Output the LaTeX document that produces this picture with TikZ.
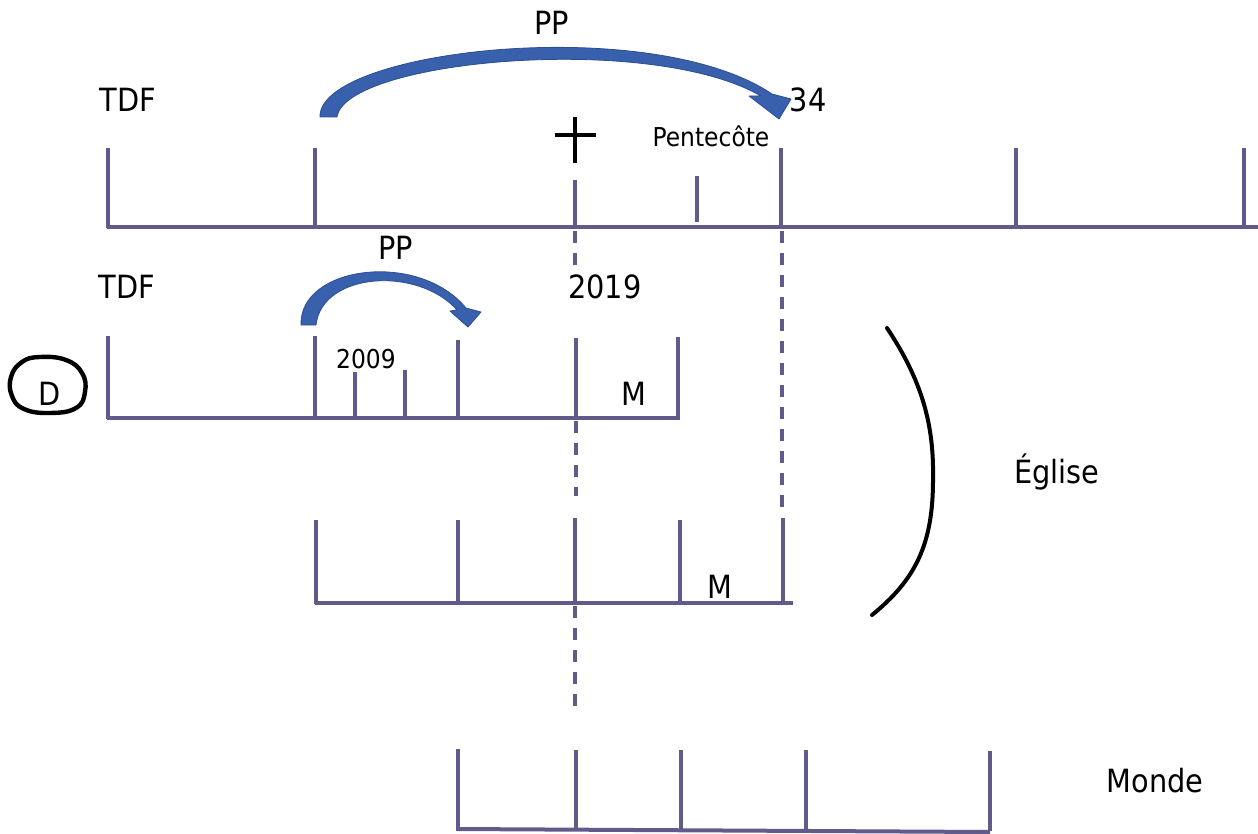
\documentclass[tikz,border=0pt]{standalone}
\usepackage{fontspec}
\setmainfont{DejaVu Sans Condensed}
\definecolor{linec}{RGB}{97,91,139}
\definecolor{arrowb}{RGB}{56,96,172}
\definecolor{arrowd}{RGB}{44,78,148}
\tikzset{
 axisline/.style={draw=linec, line width=2pt},
 tickline/.style={draw=linec, line width=1.75pt},
 dashline/.style={draw=linec, line width=1.6pt, dash pattern=on 6pt off 5pt},
 big/.style={font=\fontsize{16}{18}\selectfont, anchor=base, inner sep=0pt},
 small/.style={font=\fontsize{13}{15}\selectfont, anchor=base, inner sep=0pt},
 inkline/.style={draw=black, line width=2pt, line cap=round, line join=round},
 arrowfill/.style={fill=arrowb, draw=arrowd, line width=0.4pt, line join=round},
}
\begin{document}
\begin{tikzpicture}[x=0.5pt,y=-0.5pt]
\useasboundingbox (0,0) rectangle (1258,834);

% ---------- top timeline ----------
\draw[axisline] (107,227) -- (1258,227);
\foreach \x/\t in {108/148,315/148,575/180,781/148,1016/148,1244/148}
  \draw[tickline] (\x,\t) -- (\x,228);
\draw[tickline] (697,176) -- (697,222);

% cross
\draw[black, line width=1.75pt] (575,117) -- (575,163);
\draw[black, line width=1.75pt] (555,135) -- (596,135);

% big arrow PP
\filldraw[arrowfill] (320,117) .. controls (318,50) and (650,12) .. (772,94)
  -- (791,99) -- (779,119) -- (749,96) -- (761,96)
  .. controls (650,32) and (345,60) .. (337,117) -- cycle;

\node[big] (pp1) at (552,35) {PP};
\node[big] (tdf1) at (128,112) {TDF};
\node[big] (n34) at (808,112) {34};
\node[small] (pent) at (711,147) {Pentecôte};

% ---------- D timeline ----------
\draw[axisline] (107,418) -- (680,418);
\foreach \x/\t in {108/336,315/336,355/372,405/370,458/340,576/338,678/337}
  \draw[tickline] (\x,\t) -- (\x,419);

% small arrow PP
\filldraw[arrowfill] (301,325) .. controls (299,266) and (418,250) .. (466,308)
  -- (481,312) -- (468,327) -- (450,311) -- (457,310)
  .. controls (418,266) and (322,272) .. (316,325) -- cycle;

\node[big] (pp2) at (396,260) {PP};
\node[big] (tdf2) at (127,299) {TDF};
\node[big] (y2019) at (605,299) {2019};
\node[small] (y2009) at (366,368) {2009};
\node[big] (m1) at (634,405) {M};

% D circled
\node[big] (d) at (50,405) {D};
\draw[inkline, line width=2.2pt] plot[smooth cycle, tension=0.75] coordinates
  {(40,357) (66,360) (82,373) (85,392) (76,408) (50,413) (24,409) (12,396) (11,377) (22,362)};

% ---------- Église timeline ----------
\draw[axisline] (315,603) -- (793,603);
\foreach \x/\t in {316/520,458/520,575/518,680/520,783/518}
  \draw[tickline] (\x,\t) -- (\x,604);
\node[big] (m2) at (720,598) {M};

% dashed guides
\draw[dashline] (575,231) -- (575,266);
\draw[dashline] (576,421) -- (576,496);
\draw[dashline] (575,606) -- (575,712);
\draw[dashline] (782,231) -- (782,512);

% bracket
\draw[inkline] (887,328) .. controls (925,385) and (934,430) .. (933,480)
  .. controls (933,545) and (915,580) .. (872,615);
\node[big] (eglise) at (1057,483) {Église};

% ---------- Monde timeline ----------
\draw[axisline] (457,829) -- (990,832);
\foreach \x/\t in {458/749,576/750,681/750,806/750,990/751}
  \draw[tickline] (\x,\t) -- (\x,831);
\node[big] (monde) at (1155,792) {Monde};
\end{tikzpicture}
\end{document}
